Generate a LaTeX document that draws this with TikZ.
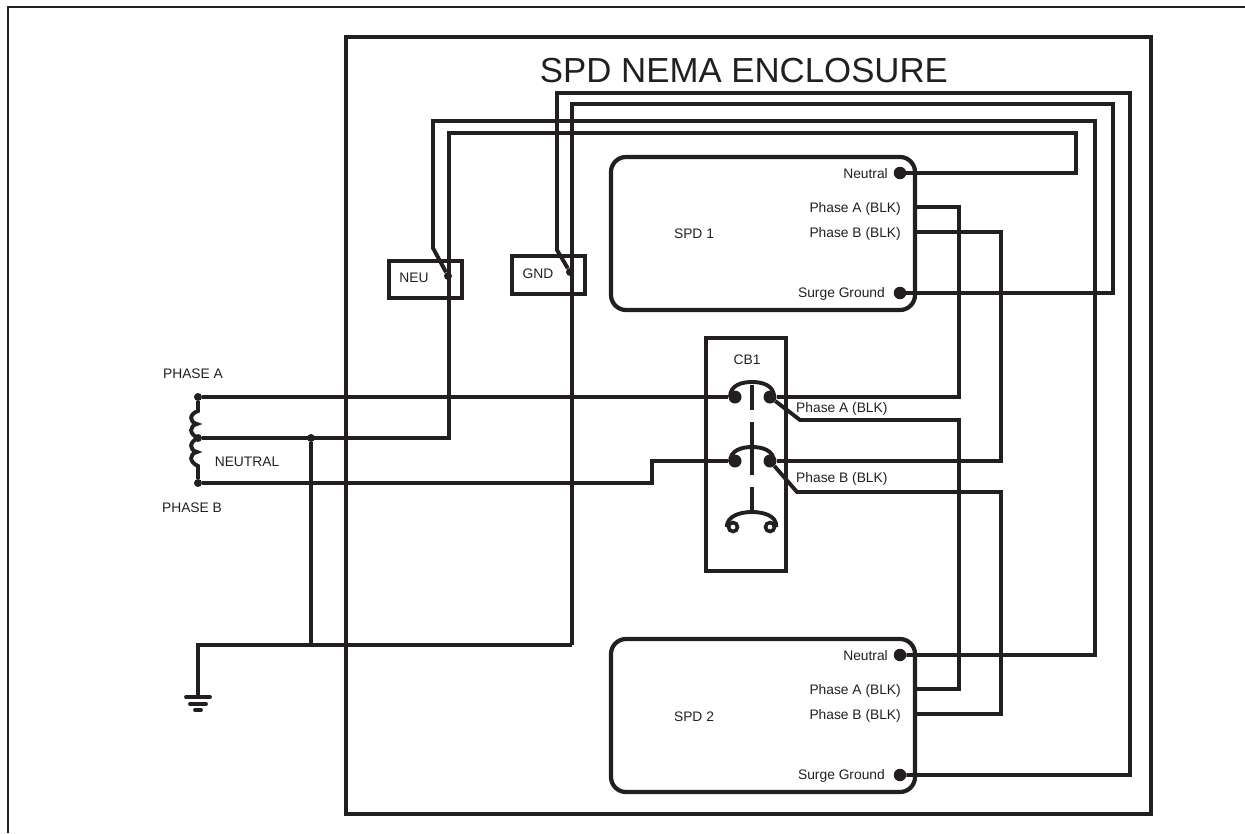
\documentclass[tikz,border=0pt]{standalone}
\usepackage{fontspec}
\setmainfont{Liberation Sans}
\definecolor{inkblack}{HTML}{231F20}
\tikzset
{
	wire/.style			= {line width = 3.9pt, inkblack, line join = miter},
	box/.style			= {draw = inkblack, line width = 4.2pt},
	spd/.style			= {box, rounded corners = 15pt},
	lbl/.style			= {font = \fontsize{13.8}{15}\selectfont, text = inkblack, inner sep = 0pt},
	pin/.style			= {circle, fill = inkblack, inner sep = 0pt, minimum size = 12.5pt},
	joint/.style		= {circle, fill = inkblack, inner sep = 0pt, minimum size = 8pt},
	contact/.style		= {pin, minimum size = 13pt},
	opencontact/.style	= {circle, draw = inkblack, line width = 3.6pt, fill = white, inner sep = 0pt, minimum size = 9pt},
}
\begin{document}
\begin{tikzpicture}
[
	x = 1pt,
	y = -1pt,
]

\useasboundingbox (0,0) rectangle (1245,833);

% sheet edge and enclosure
\draw [inkblack, line width = 1.6pt] (8,833) -- (8,7) -- (1245,7);
\draw [box] (346,37) rectangle (1151,814);
\node [lbl, font = \fontsize{34.8}{40}\selectfont] (title) at (744,71) {SPD NEMA ENCLOSURE};

% SPD boxes
\draw [spd] (611,157) rectangle (915,310);
\draw [spd] (611,639) rectangle (915,792);
\node [lbl] (spdone) at (694,234) {SPD 1};
\node [lbl] (spdtwo) at (694,717) {SPD 2};

% bars and breaker
\draw [box] (389,261) rectangle (462,298);
\draw [box] (512,256) rectangle (585,294);
\draw [box] (706,338) rectangle (786,571);
\node [lbl] (neu) at (414,278) {NEU};
\node [lbl] (gnd) at (538,274) {GND};
\node [lbl] (cbone) at (747,360) {CB1};

% terminals
\node [pin] (oneN) at (900,173) {};
\node [pin] (oneS) at (900,293) {};
\node [pin] (twoN) at (900,655) {};
\node [pin] (twoS) at (900,775) {};
\coordinate (oneA) at (915,207);
\coordinate (oneB) at (915,232);
\coordinate (twoA) at (915,689);
\coordinate (twoB) at (915,714);
\node [joint] (neuA) at (448,276) {};
\node [joint] (gndA) at (570,272) {};
\node [joint] (srcA) at (198,397) {};
\node [joint] (srcN) at (198,438) {};
\node [joint] (srcB) at (198,483) {};
\node [joint] (tee) at (311,438) {};
\coordinate (earth) at (198,697);
\coordinate (gndB) at (572,645);

% breaker contacts
\node [contact] (inA) at (735,397) {};
\node [contact] (outA) at (770,397) {};
\node [contact] (inB) at (735,461) {};
\node [contact] (outB) at (770,461) {};
\node [opencontact] (inC) at (733,527) {};
\node [opencontact] (outC) at (770,527) {};

\foreach \top in {382,447}
{
	\draw [wire] (730,\top+15) .. controls (730,\top+3) and (742,\top) .. (752,\top)
		.. controls (762,\top) and (774,\top+3) .. (774,\top+15);
}
\draw [wire] (inC.west) .. controls (727,515) and (742,512) .. (752,512)
	.. controls (762,512) and (777,515) .. (outC.east);
\draw [wire] (752,385) -- (752,410);
\draw [wire] (752,422) -- (752,475);
\draw [wire] (752,487) -- (752,512);

% neutral wires
\draw [wire] (neuA) -- (433,248) -- (433,121) -| (1095,655) -- (twoN);
\draw [wire] (srcN) -- (449,438) -- (449,133) -| (1076,173) -- (oneN);

% ground wires
\draw [wire] (gndA) -- (557,250) -- (557,93) -| (1130,775) -- (twoS);
\draw [wire] (gndB) -- (572,104) -| (1113,293) -- (oneS);
\draw [wire] (earth) -- (198,645) -- (gndB);
\draw [wire] (tee) -- (311,645);

% phase wires
\draw [wire] (srcA) -- (inA);
\draw [wire] (srcB) -- (652,483) -- (652,461) -- (inB);
\draw [wire] (outA) -- (959,397) -- (959,207) -- (oneA);
\draw [wire] (outA) -- (800,420) -- (959,420) -- (959,689) -- (twoA);
\draw [wire] (outB) -- (1001,461) -- (1001,232) -- (oneB);
\draw [wire] (outB) -- (797,492) -- (1001,492) -- (1001,714) -- (twoB);

% transformer coil
\draw [wire] (srcA) -- (198,411)
	.. controls (189,414) and (189,422) .. (197,424)
	.. controls (189,426) and (189,434) .. (srcN.center)
	.. controls (189,442) and (189,450) .. (197,452)
	.. controls (189,454) and (189,462) .. (198,466)
	-- (srcB);

% earth symbol
\draw [wire, line cap = round] (186,697) -- (210,697);
\draw [wire, line cap = round] (190,704) -- (206,704);
\draw [wire, line cap = round] (195,710) -- (201,710);

% labels
\node [lbl, anchor = east] (nOne) at (888,174) {Neutral};
\node [lbl, anchor = east] (aOne) at (901,209) {Phase A (BLK)};
\node [lbl, anchor = east] (bOne) at (901,234) {Phase B (BLK)};
\node [lbl, anchor = east] (sOne) at (885,294) {Surge Ground};
\node [lbl, anchor = east] (nTwo) at (888,656) {Neutral};
\node [lbl, anchor = east] (aTwo) at (901,691) {Phase A (BLK)};
\node [lbl, anchor = east] (bTwo) at (901,716) {Phase B (BLK)};
\node [lbl, anchor = east] (sTwo) at (885,776) {Surge Ground};
\node [lbl, anchor = west] (aCb) at (796,409) {Phase A (BLK)};
\node [lbl, anchor = west] (bCb) at (796,479) {Phase B (BLK)};
\node [lbl] (phaseA) at (193,374) {PHASE A};
\node [lbl] (phaseB) at (192,508) {PHASE B};
\node [lbl] (neutral) at (247,462) {NEUTRAL};

\end{tikzpicture}
\end{document}
